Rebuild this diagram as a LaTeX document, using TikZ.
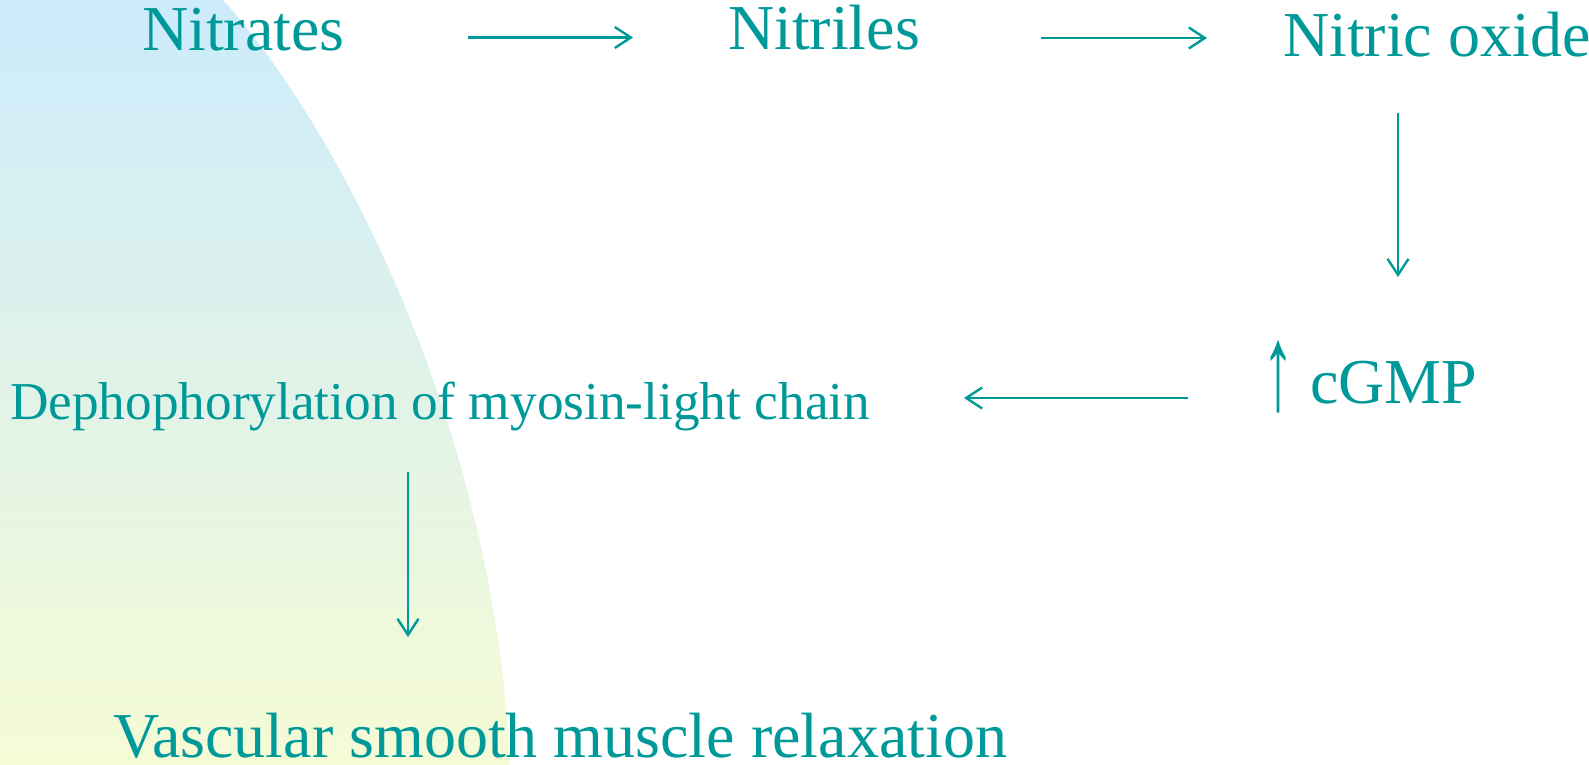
\documentclass[tikz,border=0pt]{standalone}
\usepackage{fontspec}
\setmainfont{Liberation Serif}
\usetikzlibrary{arrows.meta,calc}
\definecolor{tealtext}{RGB}{0,153,153}
\definecolor{bgtop}{RGB}{204,235,252}
\definecolor{bgbot}{RGB}{245,251,213}
\begin{document}
\begin{tikzpicture}[x=1pt,y=-1pt,
  lbl/.style={inner sep=0pt, outer sep=0pt, anchor=base west, text=tealtext, font=\fontsize{64}{70}\selectfont},
  small/.style={lbl, font=\fontsize{53.3}{60}\selectfont},
  arr/.style={draw=tealtext, line width=2.4pt, -{Straight Barb[length=16pt,width=21pt]}}]
\useasboundingbox (0,0) rectangle (1589,765);
\fill[white] (0,0) rectangle (1589,765);
\shade[top color=bgtop, bottom color=bgbot] (0,0) -- (223,0) .. controls (340,130) and (495,430) .. (510,765) -- (0,765) -- cycle;
\node[lbl] (nitrates) at (142,50.5) {Nitrates};
\node[lbl] (nitriles) at (728,50) {Nitriles};
\node[lbl] (nitric) at (1283,57) {Nitric oxide};
\node[lbl] (cgmp) at (1262,403) {\raisebox{-6pt}{\scalebox{1}[1.9]{↑}} cGMP};
\node[small] (deph) at (10,419) {Dephophorylation of myosin-light chain};
\node[lbl] (vasc) at (113,757) {Vascular smooth muscle relaxation};
\draw[arr] ($(nitrates.base west)+(326,-13)$) -- ($(nitriles.base west)+(-95,-12.5)$);
\draw[arr] ($(nitriles.base west)+(313,-12)$) -- ($(nitric.base west)+(-76,-19)$);
\draw[arr] ($(nitric.base west)+(115,56)$) -- ($(cgmp.base west)+(136,-126)$);
\draw[arr] ($(cgmp.base west)+(-74,-5)$) -- ($(deph.base west)+(954,-21)$);
\draw[arr] ($(deph.base west)+(398,53)$) -- ($(vasc.base west)+(295,-120)$);
\end{tikzpicture}
\end{document}
